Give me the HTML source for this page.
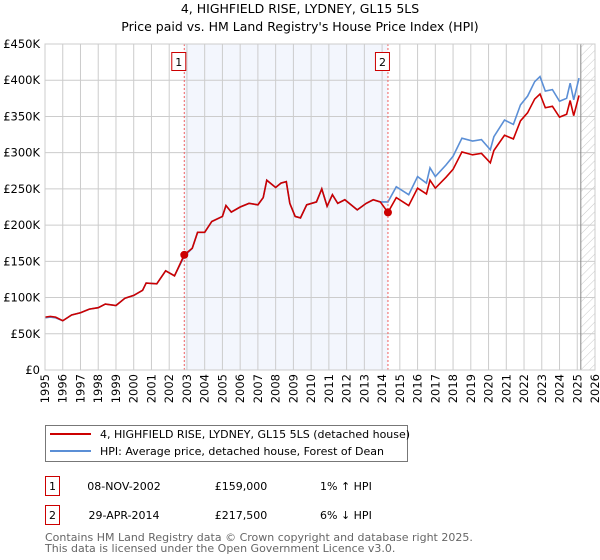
<!DOCTYPE html>
<html><head><meta charset="utf-8"><style>
body{margin:0;background:#fff;font-family:"Liberation Sans","DejaVu Sans",sans-serif;}
svg{display:block}
</style></head><body>
<svg width="600" height="560" xmlns="http://www.w3.org/2000/svg" font-family="DejaVu Sans, Liberation Sans, sans-serif">
<text x="300" y="13" text-anchor="middle" font-size="12.5">4, HIGHFIELD RISE, LYDNEY, GL15 5LS</text>
<text x="300" y="31" text-anchor="middle" font-size="12.5">Price paid vs. HM Land Registry's House Price Index (HPI)</text>
<g id="plot"></g>
<g>
<rect x="45.5" y="425.5" width="362" height="36" fill="#fff" stroke="#777"/>
<line x1="50" y1="434" x2="91" y2="434" stroke="#cc0000" stroke-width="2"/>
<text x="100" y="438" font-size="11">4, HIGHFIELD RISE, LYDNEY, GL15 5LS (detached house)</text>
<line x1="50" y1="451" x2="91" y2="451" stroke="#5b8fd6" stroke-width="2"/>
<text x="100" y="455" font-size="11">HPI: Average price, detached house, Forest of Dean</text>
</g>
<g font-size="11">
<rect x="45.5" y="476.5" width="14" height="19" fill="#fff" stroke="#cc0000"/>
<text x="52.5" y="490" text-anchor="middle">1</text>
<text x="124" y="490" text-anchor="middle">08-NOV-2002</text>
<text x="241" y="490" text-anchor="middle">£159,000</text>
<text x="320" y="490">1% ↑ HPI</text>
<rect x="45.5" y="505.5" width="14" height="19" fill="#fff" stroke="#cc0000"/>
<text x="52.5" y="519" text-anchor="middle">2</text>
<text x="124" y="519" text-anchor="middle">29-APR-2014</text>
<text x="241" y="519" text-anchor="middle">£217,500</text>
<text x="320" y="519">6% ↓ HPI</text>
</g>
<text x="45" y="541" font-size="11" fill="#666">Contains HM Land Registry data © Crown copyright and database right 2025.</text>
<text x="45" y="552" font-size="11" fill="#666">This data is licensed under the Open Government Licence v3.0.</text>
</svg>
<script>
const years=[1995,1995.3,1995.6,1996,1996.5,1997,1997.5,1998,1998.4,1999,1999.5,2000,2000.5,2000.7,2001.3,2001.8,2002.3,2002.85,2003.3,2003.6,2004,2004.4,2005,2005.2,2005.5,2006,2006.5,2007,2007.3,2007.5,2008,2008.3,2008.6,2008.8,2009.1,2009.4,2009.75,2010.3,2010.6,2010.9,2011.2,2011.5,2011.9,2012.6,2013.1,2013.5,2013.9,2014.33,2014.8,2015.5,2016,2016.5,2016.7,2017,2017.6,2018,2018.5,2019.1,2019.6,2020.1,2020.3,2020.9,2021.4,2021.8,2022.2,2022.6,2022.9,2023.2,2023.6,2024,2024.4,2024.6,2024.8,2025.1];
const hpi=[72,73,72,68,76,79,84,86,91,89,99,103,110,120,119,137,130,157,168,190,190,205,212,227,218,225,230,228,238,262,252,258,260,230,212,210,228,232,250,226,242,230,235,221,230,235,232,232,253,242,267,258,279,267,283,295,320,316,318,304,322,345,339,366,378,398,405,385,387,371,375,396,373,403];
const red=[73,74,73,68,76,79,84,86,91,89,99,103,110,120,119,137,130,159,168,190,190,205,212,227,218,225,230,228,238,262,252,258,260,230,212,210,228,232,250,226,242,230,235,221,230,235,232,217.5,238,227,251,243,262,251,266,277,301,297,299,286,303,324,319,344,355,374,381,362,364,349,353,372,351,379];
const saleYears=[2002.85,2014.33];
const salePrices=[159,217.5];
const yTicks=[0,50,100,150,200,250,300,350,400,450];
const yLabels=["£0","£50K","£100K","£150K","£200K","£250K","£300K","£350K","£400K","£450K"];
const xTicks=[1995,1996,1997,1998,1999,2000,2001,2002,2003,2004,2005,2006,2007,2008,2009,2010,2011,2012,2013,2014,2015,2016,2017,2018,2019,2020,2021,2022,2023,2024,2025,2026];
const L=45,R=595,T=44,B=370,x0=1995,x1=2026,yMax=450,dataEnd=2025.2;
const X=v=>L+(v-x0)/(x1-x0)*(R-L);
const Y=v=>B-v/yMax*(B-T);
const NS="http://www.w3.org/2000/svg";
const g=document.getElementById('plot');
function mk(t,a){const e=document.createElementNS(NS,t);for(const k in a)e.setAttribute(k,a[k]);g.appendChild(e);return e;}
const shade=mk('rect',{x:X(saleYears[0]),y:T,width:X(saleYears[1])-X(saleYears[0]),height:B-T,fill:'#f3f6fd'});


const defs=mk('defs',{});
defs.innerHTML='<pattern id="hatch" width="6" height="6" patternUnits="userSpaceOnUse" patternTransform="rotate(45)"><line x1="0" y1="0" x2="0" y2="6" stroke="#bbb" stroke-width="0.8"/></pattern>';
const hatch=mk('rect',{x:X(dataEnd),y:T,width:R-X(dataEnd),height:B-T,fill:'url(#hatch)'});


yTicks.forEach((v,i)=>{
 const l=mk('line',{x1:L,x2:R,y1:Y(v),y2:Y(v),stroke:'#ccc'});
 
 
 const t=mk('text',{x:L-5,y:Y(v)+4,'text-anchor':'end','font-size':11.5});
 
 
 t.textContent=yLabels[i];
});
xTicks.forEach(v=>{
 const l=mk('line',{x1:X(v),x2:X(v),y1:T,y2:B,stroke:'#ccc'});
 
 
 const t=mk('text',{x:0,y:0,'text-anchor':'end','font-size':11.5,transform:`translate(${X(v)+4},${B+4}) rotate(-90)`});
 
 
 t.textContent=v;
});
const ev=mk('line',{x1:X(dataEnd),x2:X(dataEnd),y1:T,y2:B,stroke:'#888'});


const hp=mk('polyline',{points:years.map((y,i)=>X(y)+','+Y(hpi[i])).join(' '),fill:'none',stroke:'#5b8fd6','stroke-width':1.6});


const rp=mk('polyline',{points:years.map((y,i)=>X(y)+','+Y(red[i])).join(' '),fill:'none',stroke:'#cc0000','stroke-width':1.6});


saleYears.forEach((s,i)=>{
 const vl=mk('line',{x1:X(s),x2:X(s),y1:T,y2:B,stroke:'#f06060','stroke-dasharray':'2,2'});
 
 
 const c=mk('circle',{cx:X(s),cy:Y(salePrices[i]),r:4,fill:'#cc0000'});
 
 
 const b=mk('rect',{x:X(s)-12.5,y:52.5,width:14,height:18,fill:'#fff',stroke:'#cc0000'});
 
 
 const t=mk('text',{x:X(s)-5.5,y:66,'text-anchor':'middle','font-size':11});
 
 
 t.textContent=i+1;
});
const fr=mk('rect',{x:L,y:T,width:R-L,height:B-T,fill:'none',stroke:'#ccc'});


</script>
</body></html>
